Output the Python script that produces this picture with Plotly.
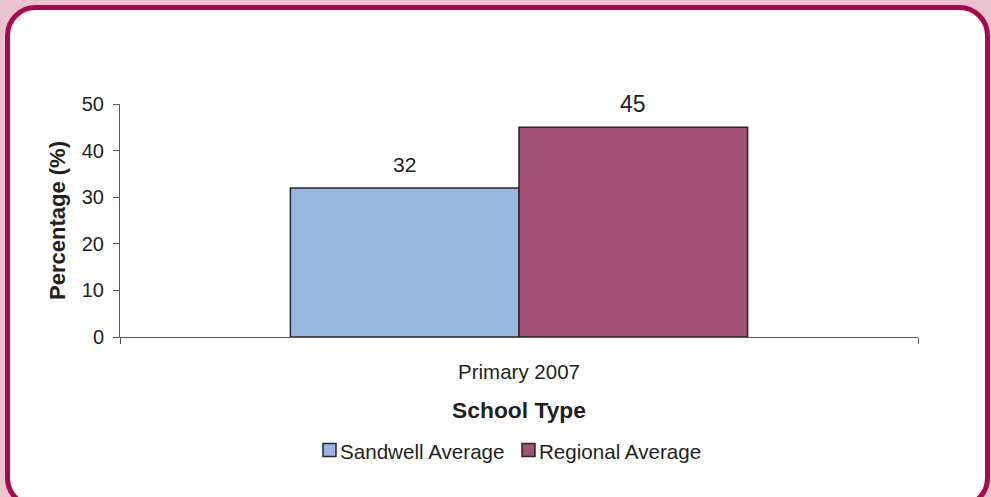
import plotly.graph_objects as go

# Chart data
categories = ["Primary 2007"]
series_names = ["Sandwell Average", "Regional Average"]
sandwell = [32]
regional = [45]
series_colors = ["#97b6e0", "#a15274"]
label_sizes = [21, 23]
y_ticks = [0, 10, 20, 30, 40, 50]

W, H = 991, 497
ML, MR, MT, MB = 120, 73, 104, 160
PW, PH = W - ML - MR, H - MT - MB

def px(x):
    return (x - ML) / PW

def py(y):
    return (H - MB - y) / PH

def rounded_rect(x0, y0, x1, y1, r):
    k = 0.5523 * r
    pts = [
        f"M {px(x0 + r)},{py(y0)}",
        f"L {px(x1 - r)},{py(y0)}",
        f"C {px(x1 - r + k)},{py(y0)} {px(x1)},{py(y0 + r - k)} {px(x1)},{py(y0 + r)}",
        f"L {px(x1)},{py(y1 - r)}",
        f"C {px(x1)},{py(y1 - r + k)} {px(x1 - r + k)},{py(y1)} {px(x1 - r)},{py(y1)}",
        f"L {px(x0 + r)},{py(y1)}",
        f"C {px(x0 + r - k)},{py(y1)} {px(x0)},{py(y1 - r + k)} {px(x0)},{py(y1 - r)}",
        f"L {px(x0)},{py(y0 + r)}",
        f"C {px(x0)},{py(y0 + r - k)} {px(x0 + r - k)},{py(y0)} {px(x0 + r)},{py(y0)}",
        "Z",
    ]
    return " ".join(pts)

FONT = "Liberation Sans, Arial, sans-serif"
TEXT = "#231f20"
OUTLINE = "#2a2627"
bargap = 0.427

fig = go.Figure()
for name, vals, color in zip(series_names, [sandwell, regional], series_colors):
    fig.add_trace(go.Bar(
        x=categories, y=vals, name=name, showlegend=False,
        marker=dict(color=color, line=dict(color=OUTLINE, width=1.5)),
    ))

# value labels above each bar
half = (1 - bargap) / 4
for i, (vals, size) in enumerate(zip([sandwell, regional], label_sizes)):
    offset = -half if i == 0 else half
    for j, v in enumerate(vals):
        fig.add_annotation(
            x=j + offset, y=v, xref="x", yref="y", text=str(v),
            showarrow=False, yanchor="middle", yshift=23,
            font=dict(family=FONT, size=size, color=TEXT),
        )

# legend row: swatch + label per series
shapes = [dict(
    type="path", xref="paper", yref="paper", layer="below",
    path=rounded_rect(7.5, 7.5, 987.5, 506, 28),
    fillcolor="#ffffff", line=dict(color="#a6094c", width=5),
)]
legend_x = [323, 522]
for name, color, lx in zip(series_names, series_colors, legend_x):
    shapes.append(dict(
        type="rect", xref="paper", yref="paper", layer="above",
        x0=px(lx), x1=px(lx + 13), y0=py(456.5), y1=py(443.5),
        fillcolor=color, line=dict(color=OUTLINE, width=1.5),
    ))
    fig.add_annotation(
        x=px(lx + 15), y=py(451), xref="paper", yref="paper", text=name,
        showarrow=False, xanchor="left", yanchor="middle",
        font=dict(family=FONT, size=20.6, color=TEXT),
    )

fig.update_layout(
    width=W, height=H,
    margin=dict(l=ML, r=MR, t=MT, b=MB, pad=0),
    paper_bgcolor="#e9c4d0",
    plot_bgcolor="rgba(0,0,0,0)",
    barmode="group", bargap=bargap, bargroupgap=0,
    font=dict(family=FONT, color=TEXT),
    showlegend=False,
    shapes=shapes,
    xaxis=dict(
        type="category", tickson="boundaries", ticks="outside", ticklen=6,
        tickcolor="#595959", showline=True, linecolor="#595959", linewidth=1,
        showgrid=False, tickfont=dict(family=FONT, size=20.5, color=TEXT),
        ticklabelstandoff=16,
        title=dict(text="<b>School Type</b>", font=dict(family=FONT, size=22.8, color=TEXT), standoff=20),
    ),
    yaxis=dict(
        range=[0, 50], tickvals=y_ticks, ticks="outside", ticklen=6,
        tickcolor="#595959", showline=True, linecolor="#595959", linewidth=1,
        showgrid=False, zeroline=False, tickfont=dict(family=FONT, size=20, color=TEXT),
        ticklabelstandoff=5,
        title=dict(text="<b>Percentage (%)</b>", font=dict(family=FONT, size=22, color=TEXT), standoff=10),
    ),
)

fig.write_html("out.html")
